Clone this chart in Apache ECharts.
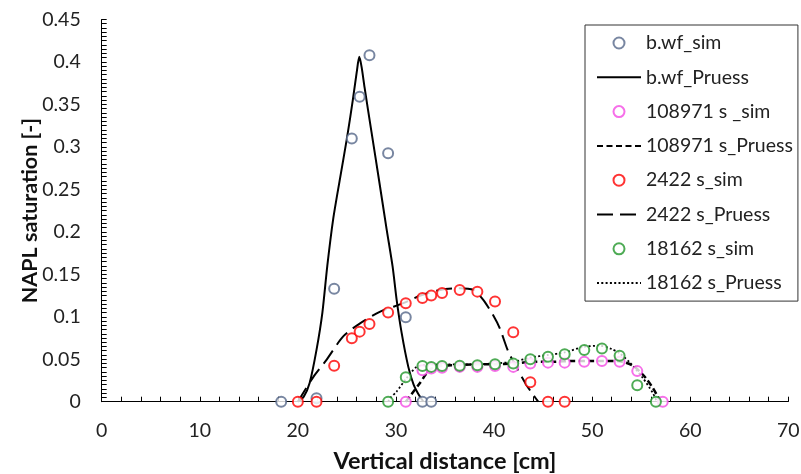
<!DOCTYPE html>
<html><head><meta charset="utf-8">
<script src="https://cdn.jsdelivr.net/npm/echarts@6/dist/echarts.min.js"></script>
<style>html,body{margin:0;padding:0;background:#fff}#c{width:801px;height:474px}</style>
</head><body><div id="c"></div>
<script>
// ---- data (x: vertical distance [cm], y: NAPL saturation [-]) ----
var seriesNames = ["b.wf_sim","b.wf_Pruess","108971 s _sim","108971 s_Pruess","2422 s_sim","2422 s_Pruess","18162 s_sim","18162 s_Pruess"];
var xTicks = [0,10,20,30,40,50,60,70];
var yTicks = [0,0.05,0.1,0.15,0.2,0.25,0.3,0.35,0.4,0.45];

var bwfSim = [[18.3,0],[21.9,0.004],[23.7,0.133],[25.5,0.31],[26.3,0.359],[27.3,0.408],[29.2,0.2925],[31.0,0.0994],[32.7,0],[33.6,0]];
var bwfPruess = [[20.0,0],[20.6,0.006],[21.2,0.022],[21.9,0.061],[22.5,0.105],[23.0,0.16],[23.6,0.215],[24.3,0.263],[25.0,0.31],[25.6,0.355],[26.0,0.388],[26.26,0.406],[26.5,0.394],[26.8,0.37],[27.5,0.318],[28.3,0.259],[29.05,0.203],[29.66,0.159],[30.07,0.12],[30.58,0.081],[31.26,0.041],[31.8,0.02],[32.28,0.009],[32.8,0]];

var s108971Sim = [[31.0,0],[32.7,0.037],[33.6,0.039],[34.7,0.040],[36.5,0.041],[38.3,0.041],[40.1,0.042],[41.96,0.041],[43.7,0.045],[45.5,0.046],[47.2,0.046],[49.2,0.047],[51.0,0.048],[52.8,0.047],[54.6,0.036],[57.2,0]];
var s108971Pruess = [[31.0,0],[31.4,0.006],[32.45,0.022],[33.1,0.033],[33.6,0.039],[34.5,0.042],[36,0.043],[38,0.044],[40,0.044],[42,0.045],[44,0.047],[46,0.047],[48,0.048],[50,0.048],[52.4,0.048],[53.4,0.046],[54.2,0.042],[55.0,0.034],[55.6,0.026],[56.2,0.016],[56.7,0.006],[57.0,0]];

var s2422Sim = [[20.0,0],[21.9,0],[23.7,0.0424],[25.5,0.0746],[26.3,0.0825],[27.3,0.0915],[29.2,0.105],[31.0,0.116],[32.7,0.122],[33.6,0.125],[34.7,0.128],[36.5,0.1316],[38.3,0.1296],[40.1,0.118],[41.96,0.0817],[43.7,0.0228],[45.5,0],[47.2,0]];
var s2422Pruess = [[20.0,0],[21.57,0.029],[22.9,0.049],[24.6,0.0766],[26.3,0.092],[28.4,0.106],[30.75,0.116],[32.5,0.125],[34.5,0.1316],[36.2,0.1335],[37.9,0.1316],[38.9,0.12],[39.9,0.102],[40.6,0.086],[41.45,0.059],[42.4,0.038],[43.3,0.0197],[44.0,0.008],[44.5,0]];

var s18162Sim = [[29.2,0],[31.0,0.0287],[32.7,0.042],[33.6,0.041],[34.7,0.042],[36.5,0.0424],[38.3,0.043],[40.1,0.044],[41.96,0.045],[43.7,0.050],[45.5,0.053],[47.2,0.056],[49.2,0.061],[51.0,0.0625],[52.8,0.054],[54.6,0.0195],[56.5,0]];
var s18162Pruess = [[29.2,0],[29.4,0.004],[30.07,0.012],[31.1,0.028],[32.1,0.041],[33,0.043],[35,0.044],[38,0.044],[40,0.045],[42,0.047],[43.7,0.052],[45.5,0.055],[47.2,0.058],[49.1,0.0645],[50.8,0.066],[52.0,0.062],[52.8,0.057],[53.85,0.046],[55.2,0.0275],[56.2,0.01],[56.6,0]];

// ---- chart ----
var FONT = 'Lato';
var TXT = '#222222';
function sim(name, data, color){
  return {name:name, type:'scatter', data:data, symbol:'circle', symbolSize:10,
    itemStyle:{color:'#ffffff', borderColor:color, borderWidth:2}, z:3};
}
function line(name, data, type, width){
  return {name:name, type:'line', data:data, symbol:'none', smooth:0.25, color:'#000',
    itemStyle:{color:'#000'},
    lineStyle:{color:'#000000', width:width, type:type}, z:2};
}
var legendData = seriesNames.map(function(n, i){
  return (i % 2 === 1) ? {name:n, itemStyle:{opacity:0}} : {name:n};
});
var chart = echarts.init(document.getElementById('c'), null, {renderer:'canvas'});
chart.setOption({
  animation:false,
  backgroundColor:'#ffffff',
  grid:{left:101.7, right:12.7, top:19.5, bottom:72.3, containLabel:false, outerBoundsMode:'none'},
  xAxis:{type:'value', min:xTicks[0], max:xTicks[xTicks.length-1], interval:10,
    name:'Vertical distance [cm]', nameLocation:'middle', nameGap:48, nameMoveOverlap:false,
    nameTextStyle:{fontFamily:FONT, fontWeight:'bold', fontSize:23.5, color:'#111'},
    axisLine:{show:true, onZero:false, lineStyle:{color:'#000', width:1}},
    axisTick:{show:true, inside:true, length:5, lineStyle:{color:'#000'}},
    minorTick:{show:true, splitNumber:5, length:5, lineStyle:{color:'#000'}},
    splitLine:{show:false},
    axisLabel:{margin:19, fontFamily:FONT, fontSize:19.5, color:TXT}
  },
  yAxis:{type:'value', min:yTicks[0], max:yTicks[yTicks.length-1], interval:0.05,
    name:'NAPL saturation [-]', nameLocation:'middle', nameGap:61, nameMoveOverlap:false,
    nameTextStyle:{fontFamily:FONT, fontWeight:'bold', fontSize:21.5, color:'#111'},
    axisLine:{show:true, onZero:false, lineStyle:{color:'#000', width:1}},
    axisTick:{show:true, inside:true, length:5, lineStyle:{color:'#000'}},
    minorTick:{show:true, splitNumber:10, length:5, lineStyle:{color:'#000'}},
    splitLine:{show:false},
    axisLabel:{margin:21, fontFamily:FONT, fontSize:19.5, color:TXT}
  },
  legend:{orient:'vertical', left:585, top:25, itemWidth:44, itemHeight:11, itemGap:14.3,
    padding:[8,5,8,11], borderColor:'#333', borderWidth:1, backgroundColor:'#fff',
    textStyle:{fontFamily:FONT, fontSize:19.5, color:TXT},
    data:legendData},
  series:[
    sim(seriesNames[0], bwfSim, '#56688a'),
    line(seriesNames[1], bwfPruess, 'solid', 2),
    sim(seriesNames[2], s108971Sim, '#f44be4'),
    line(seriesNames[3], s108971Pruess, [6,3.5], 2.5),
    sim(seriesNames[4], s2422Sim, '#ff0000'),
    line(seriesNames[5], s2422Pruess, [16,7], 2),
    sim(seriesNames[6], s18162Sim, '#22962a'),
    line(seriesNames[7], s18162Pruess, [2,2.3], 1.8)
  ]
});
</script></body></html>
